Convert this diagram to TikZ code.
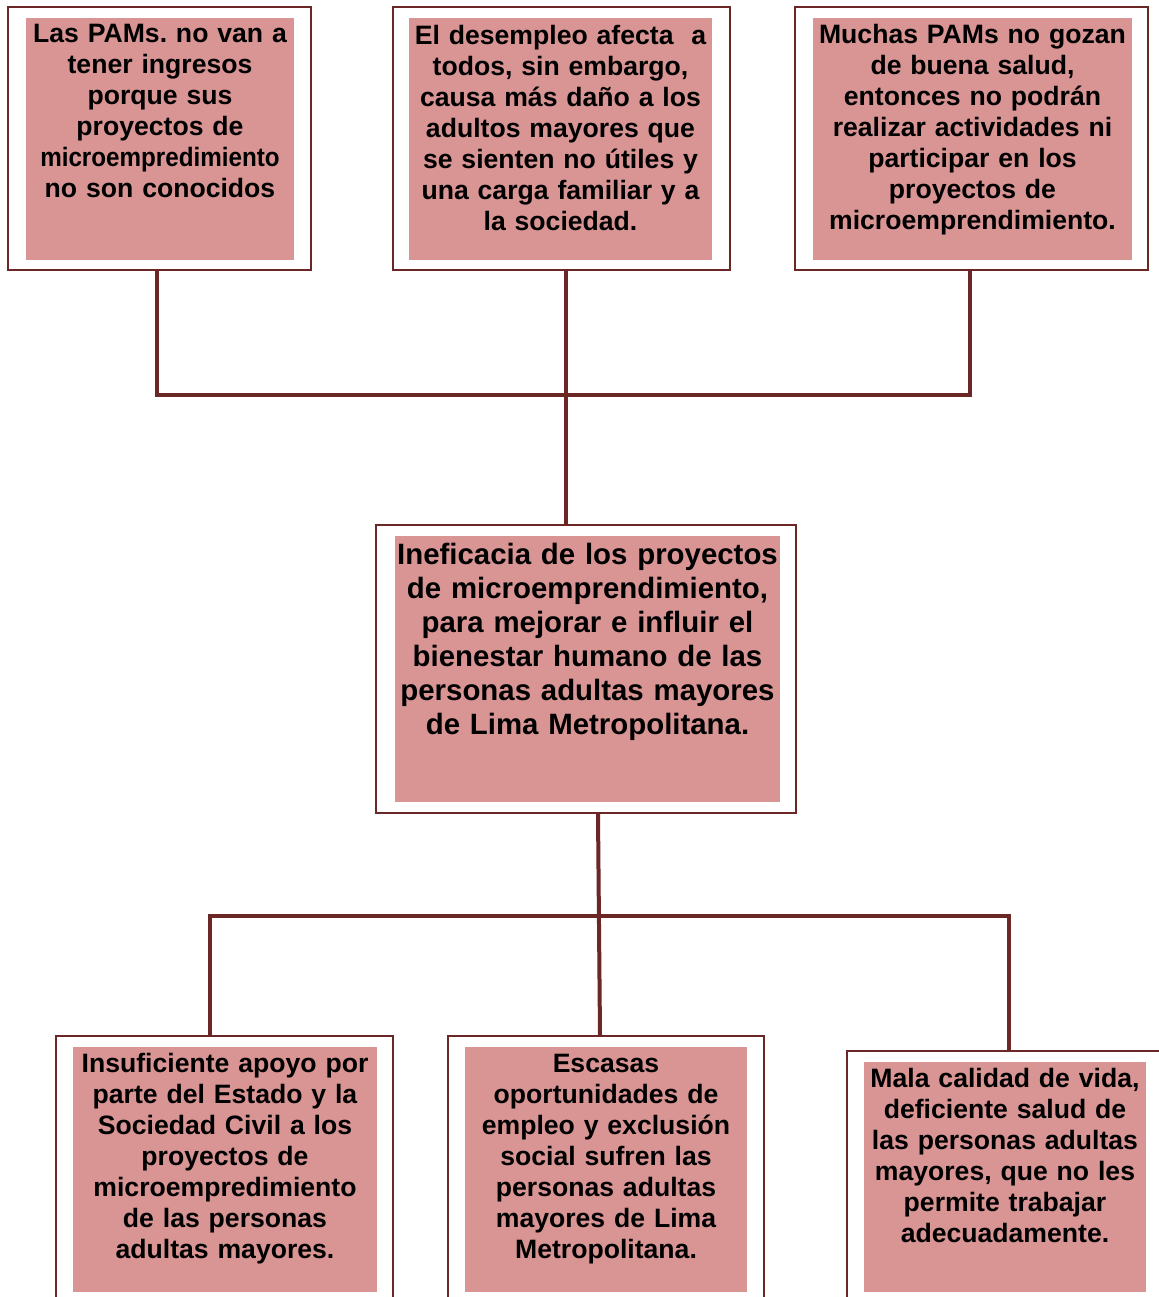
\documentclass[tikz,border=0pt]{standalone}
\usepackage{fontspec}
\setmainfont{Liberation Sans}
\usepackage{xcolor}
\usepackage{tikz}
\usetikzlibrary{calc}
\usetikzlibrary{positioning}
\definecolor{granate}{HTML}{6B2626}
\definecolor{rosa}{HTML}{D99494}
\frenchspacing

\begin{document}
\begin{tikzpicture}[x=0.5pt,y=-0.5pt]
	\tikzstyle{marco}=[draw=granate, line width=1.2pt, fill=white, rectangle, inner sep=0pt]
	\tikzstyle{fondo}=[fill=rosa, rectangle, inner sep=0pt]
	\tikzstyle{texto}=[inner sep=0pt, align=center, font=\bfseries\fontsize{13.3}{15.5}\selectfont]
	\tikzstyle{linea}=[draw=granate, line width=2pt]
	\useasboundingbox (0,0) rectangle (1159,1297);

	% efectos
	\node[marco, minimum width=151.5pt, minimum height=131.5pt] (E1) at (159.5,138.5) {};
	\node[marco, minimum width=168.5pt, minimum height=131.5pt] (E2) at (561.5,138.5) {};
	\node[marco, minimum width=176.5pt, minimum height=131.5pt] (E3) at (971.5,138.5) {};
	\node[fondo, minimum width=134pt, minimum height=121pt] (E1f) at (160,139) {};
	\node[fondo, minimum width=151.5pt, minimum height=121pt] (E2f) at (560.5,139) {};
	\node[fondo, minimum width=159.5pt, minimum height=121pt] (E3f) at (972.5,139) {};
	\node[texto, text width=134pt] (E1t) [below=3pt of E1f.north]
		{Las PAMs. no van a\\tener ingresos\\porque sus\\proyectos de\\\scalebox{0.91}[1]{microempredimiento}\\no son conocidos};
	\node[texto, text width=151.5pt] (E2t) [below=3.5pt of E2f.north]
		{El desempleo afecta~~a\\todos, sin embargo,\\causa más daño a los\\adultos mayores que\\se sienten no útiles y\\una carga familiar y a\\la sociedad.};
	\node[texto, text width=159.5pt] (E3t) [below=3pt of E3f.north]
		{Muchas PAMs no gozan\\de buena salud,\\entonces no podrán\\realizar actividades ni\\participar en los\\proyectos de\\microemprendimiento.};

	% problema central
	\node[marco, minimum width=210pt, minimum height=144pt] (P) at (586,669) {};
	\node[fondo, minimum width=192.5pt, minimum height=133pt] (Pf) at (587.5,669) {};
	\node[texto, text width=192.5pt, font=\bfseries\fontsize{14.7}{17}\selectfont] (Pt) [below=3.5pt of Pf.north]
		{Ineficacia de los proyectos\\de microemprendimiento,\\para mejorar e influir el\\bienestar humano de las\\personas adultas mayores\\de Lima Metropolitana.};

	% causas
	\node[marco, minimum width=168.5pt, minimum height=133.5pt] (C1) at (224.5,1169.5) {};
	\node[marco, minimum width=158pt, minimum height=133.5pt] (C2) at (606,1169.5) {};
	\node[marco, minimum width=158pt, minimum height=133.5pt] (C3) at (1005,1184.5) {};
	\node[fondo, minimum width=152pt, minimum height=122.5pt] (C1f) at (225,1169.5) {};
	\node[fondo, minimum width=141pt, minimum height=122.5pt] (C2f) at (606,1169.5) {};
	\node[fondo, minimum width=141pt, minimum height=115pt] (C3f) at (1005,1177) {};
	\node[texto, text width=152pt] (C1t) [below=3pt of C1f.north]
		{Insuficiente apoyo por\\parte del Estado y la\\Sociedad Civil a los\\proyectos de\\microempredimiento\\de las personas\\adultas mayores.};
	\node[texto, text width=141pt] (C2t) [below=3.5pt of C2f.north]
		{Escasas\\oportunidades de\\empleo y exclusión\\social sufren las\\personas adultas\\mayores de Lima\\Metropolitana.};
	\node[texto, text width=141pt] (C3t) [below=3pt of C3f.north]
		{Mala calidad de vida,\\deficiente salud de\\las personas adultas\\mayores, que no les\\permite trabajar\\adecuadamente.};

	% conectores
	\coordinate (jt) at (566,395);
	\coordinate (jb) at (599,916);
	\draw[linea] ([xshift=-1.25pt]E1.south) |- ([xshift=-0.75pt]E3.south |- jt) -- ([xshift=-0.75pt]E3.south);
	\draw[linea] ([xshift=2.25pt]E2.south) -- ([xshift=2.25pt]E2.south |- P.north);
	\draw[linea] ([xshift=6pt]P.south) -- ([xshift=-3pt]C2.north);
	\draw[linea] ([xshift=-7.25pt]C1.north) |- (jb) -| ([xshift=2pt]C3.north);
\end{tikzpicture}
\end{document}
